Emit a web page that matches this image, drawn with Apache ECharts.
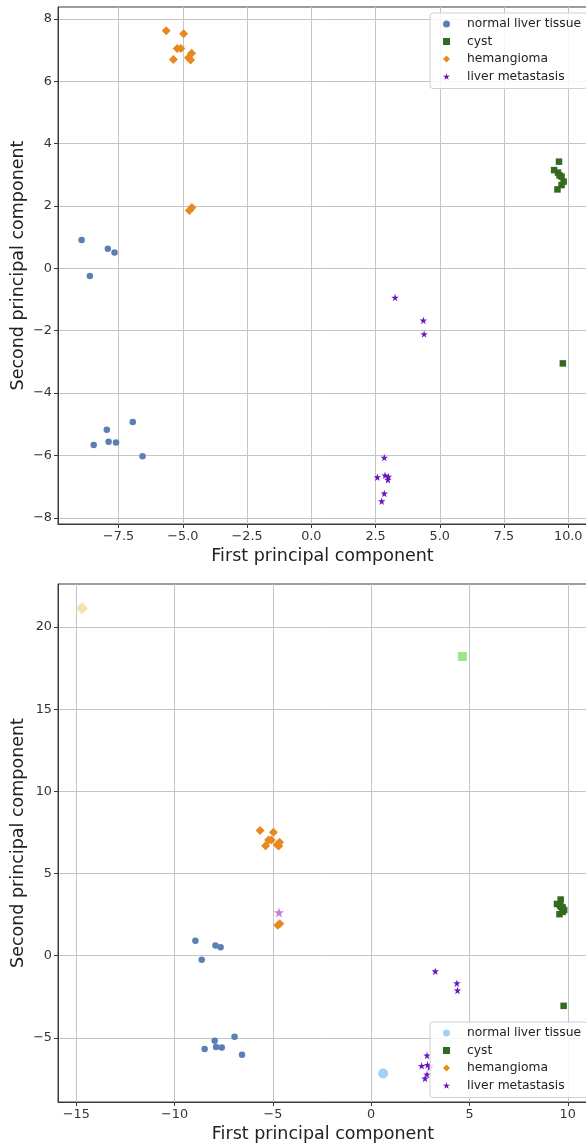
<!DOCTYPE html>
<html>
<head>
<meta charset="utf-8">
<script src="https://cdn.jsdelivr.net/npm/echarts@6/dist/echarts.min.js"></script>
<style>
  html, body { margin: 0; padding: 0; background: #fff; }
  #chart { width: 586px; height: 1143px; }
</style>
</head>
<body>
<div id="chart"></div>
<script>
// PCA projection of the four liver tissue classes (first two components)
const normalTissue = [[-8.94, 0.91], [-7.92, 0.63], [-7.66, 0.51], [-8.62, -0.25], [-6.95, -4.93],
  [-7.96, -5.18], [-8.47, -5.67], [-7.89, -5.56], [-7.60, -5.59], [-6.57, -6.03]];
const cyst = [[9.64, 3.42], [9.45, 3.15], [9.60, 3.07], [9.66, 2.98], [9.74, 2.94], [9.82, 2.78],
  [9.74, 2.67], [9.58, 2.53], [9.79, -3.05]];
const hemangioma = [[-5.65, 7.62], [-4.97, 7.52], [-5.22, 7.05], [-5.08, 7.05], [-4.66, 6.90],
  [-5.37, 6.70], [-4.78, 6.75], [-4.70, 6.68], [-4.75, 1.85], [-4.65, 1.95]];
const metastasis = [[3.26, -0.94], [4.36, -1.67], [4.39, -2.11], [2.84, -6.07], [2.57, -6.70],
  [2.87, -6.64], [3.00, -6.68], [2.98, -6.78], [2.84, -7.22], [2.74, -7.47]];

// Additional projected samples shown only in the lower panel
const newNormal = [[0.61, -7.17]];
const newCyst = [[4.64, 18.21]];
const newHemangioma = [[-14.71, 21.15]];
const newMetastasis = [[-4.69, 2.63]];

const classNames = ['normal liver tissue', 'cyst', 'hemangioma', 'liver metastasis'];

// Tick values and axis ranges
const topXTicks = [-7.5, -5, -2.5, 0, 2.5, 5, 7.5, 10];
const topYTicks = [-8, -6, -4, -2, 0, 2, 4, 6, 8];
const bottomXTicks = [-15, -10, -5, 0, 5, 10];
const bottomYTicks = [-5, 0, 5, 10, 15, 20];
const topXRange = [-9.86, 10.73];
const topYRange = [-8.2, 8.38];
const bottomXRange = [-15.93, 11.03];
const bottomYRange = [-8.9, 22.62];

const FONT = 'DejaVu Sans';
const SPINE = '#3a3a3a';
const GRIDC = '#c4c4c4';
const COLORS = {
  normal: '#5b7fb4', cyst: '#336a1e', hem: '#e8891f', met: '#6a12c4',
  normalNew: '#a5cff3', cystNew: '#9fe58c', hemNew: '#f6dfb0', metNew: '#c97bd9'
};
const STAR = 'path://M50 0 L61.17 34.63 L97.55 34.55 L68.07 55.87 L79.39 90.45 L50 69 L20.61 90.45 L31.93 55.87 L2.45 34.55 L38.83 34.63 Z';

const minusFmt = (digits) => (v) => {
  const s = digits ? Number(v).toFixed(digits) : String(Math.round(v));
  return s.replace('-', '\u2212');
};

function makeAxis(idx, range, ticks, digits, name, isX) {
  return {
    type: 'value', gridIndex: idx, min: range[0], max: range[1],
    name: name, nameLocation: 'middle', nameGap: isX ? 23 : 31, nameMoveOverlap: false,
    nameTextStyle: { fontFamily: FONT, fontSize: 17.5, color: '#222' },
    axisLine: { show: true, onZero: false, lineStyle: { color: SPINE, width: 1 } },
    axisTick: { show: true, length: 4, customValues: ticks, lineStyle: { color: SPINE } },
    axisLabel: { customValues: ticks, margin: 6, fontFamily: FONT, fontSize: 12.8, color: '#333',
      formatter: minusFmt(digits) },
    splitLine: { show: true, lineStyle: { color: GRIDC, width: 1 } }
  };
}

function scatter(name, data, xi, symbol, size, color, z) {
  return {
    type: 'scatter', name: name, xAxisIndex: xi, yAxisIndex: xi, data: data,
    symbol: symbol, symbolSize: size, itemStyle: { color: color, opacity: 1 },
    z: z || 2, emphasis: { disabled: true }, silent: true
  };
}

function legendFor(top, normalColor) {
  const icons = [
    { name: classNames[0], icon: 'circle', itemStyle: { color: normalColor } },
    { name: classNames[1], icon: 'rect', itemStyle: { color: COLORS.cyst } },
    { name: classNames[2], icon: 'diamond', itemStyle: { color: COLORS.hem } },
    { name: classNames[3], icon: STAR, itemStyle: { color: COLORS.met } }
  ];
  return {
    orient: 'vertical', left: 430, top: top, data: icons,
    itemWidth: 7, itemHeight: 7, itemGap: 1.5,
    padding: [3, 6, 4, 13],
    backgroundColor: 'rgba(255,255,255,0.85)', borderColor: '#cfcfcf', borderWidth: 1, borderRadius: 3,
    textStyle: { fontFamily: FONT, fontSize: 12.3, color: '#222', lineHeight: 16, padding: [0, 0, 0, 12] },
    selectedMode: false
  };
}

const gridBase = { show: true, borderColor: SPINE, borderWidth: 1, backgroundColor: 'transparent',
  containLabel: false, outerBoundsMode: 'none' };

const chart = echarts.init(document.getElementById('chart'), null, { renderer: 'canvas' });
chart.setOption({
  animation: false,
  backgroundColor: '#fff',
  grid: [
    Object.assign({ left: 58, top: 7, width: 529, height: 517 }, gridBase),
    Object.assign({ left: 58, top: 584, width: 530, height: 518 }, gridBase)
  ],
  xAxis: [
    makeAxis(0, topXRange, topXTicks, 1, 'First principal component', true),
    makeAxis(1, bottomXRange, bottomXTicks, 0, 'First principal component', true)
  ],
  yAxis: [
    makeAxis(0, topYRange, topYTicks, 0, 'Second principal component', false),
    makeAxis(1, bottomYRange, bottomYTicks, 0, 'Second principal component', false)
  ],
  legend: [legendFor(13, COLORS.normal), legendFor(1022, COLORS.normalNew)],
  series: [
    scatter(classNames[0], normalTissue, 0, 'circle', 6.5, COLORS.normal),
    scatter(classNames[1], cyst, 0, 'rect', 6.5, COLORS.cyst),
    scatter(classNames[2], hemangioma, 0, 'diamond', 9, COLORS.hem),
    scatter(classNames[3], metastasis, 0, STAR, 7.5, COLORS.met),

    scatter(classNames[0], normalTissue, 1, 'circle', 6.5, COLORS.normal),
    scatter(classNames[1], cyst, 1, 'rect', 6.5, COLORS.cyst),
    scatter(classNames[2], hemangioma, 1, 'diamond', 9, COLORS.hem),
    scatter(classNames[3], metastasis, 1, STAR, 7.5, COLORS.met),
    scatter('new normal liver tissue', newNormal, 1, 'circle', 10, COLORS.normalNew, 3),
    scatter('new cyst', newCyst, 1, 'rect', 9, COLORS.cystNew, 3),
    scatter('new hemangioma', newHemangioma, 1, 'diamond', 12, COLORS.hemNew, 3),
    scatter('new liver metastasis', newMetastasis, 1, STAR, 10, COLORS.metNew, 3)
  ]
});
</script>
</body>
</html>
